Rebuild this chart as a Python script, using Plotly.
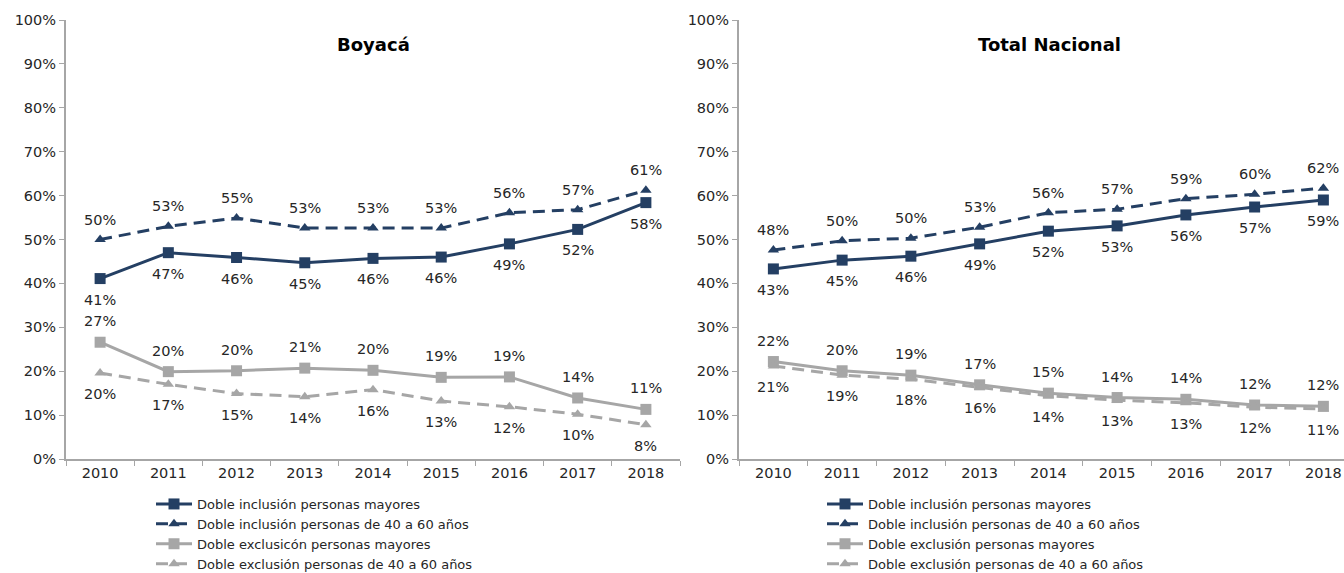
import plotly.graph_objects as go

years = ["2010", "2011", "2012", "2013", "2014", "2015", "2016", "2017", "2018"]

# Boyacá
boy_incl_may = [41.1, 47.0, 45.9, 44.7, 45.7, 46.0, 49.0, 52.3, 58.4]
boy_incl_4060 = [50.0, 53.0, 54.9, 52.6, 52.6, 52.6, 56.1, 56.8, 61.2]
boy_excl_may = [26.6, 19.9, 20.1, 20.7, 20.2, 18.6, 18.7, 13.9, 11.3]
boy_excl_4060 = [19.6, 17.0, 14.9, 14.2, 15.8, 13.2, 11.9, 10.2, 7.8]

# Total Nacional
nac_incl_may = [43.3, 45.3, 46.2, 49.0, 51.9, 53.1, 55.6, 57.4, 59.0]
nac_incl_4060 = [47.6, 49.7, 50.3, 52.8, 56.1, 56.9, 59.3, 60.3, 61.7]
nac_excl_may = [22.2, 20.1, 19.1, 16.9, 15.0, 14.0, 13.6, 12.3, 12.0]
nac_excl_4060 = [21.2, 19.1, 18.2, 16.3, 14.4, 13.4, 12.8, 11.8, 11.4]

names_left = ["Doble inclusión personas mayores",
              "Doble inclusión personas de 40 a 60 años",
              "Doble exclusicón personas mayores",
              "Doble exclusión personas de 40 a 60 años"]
names_right = ["Doble inclusión personas mayores",
               "Doble inclusión personas de 40 a 60 años",
               "Doble exclusión personas mayores",
               "Doble exclusión personas de 40 a 60 años"]

titles = ["Boyacá", "Total Nacional"]

NAVY = "#243F63"
GRAY = "#A6A6A6"
TXT = "#262626"
FONT = "DejaVu Sans"

styles = [
    dict(color=NAVY, dash="solid", symbol="square", shift=-21),
    dict(color=NAVY, dash="12px,7px", symbol="triangle-up", shift=20),
    dict(color=GRAY, dash="solid", symbol="square", shift=21),
    dict(color=GRAY, dash="12px,7px", symbol="triangle-up", shift=-21),
]

fig = go.Figure()
annotations = []

panels = [
    ("x", "y", "legend", names_left, [boy_incl_may, boy_incl_4060, boy_excl_may, boy_excl_4060]),
    ("x2", "y2", "legend2", names_right, [nac_incl_may, nac_incl_4060, nac_excl_may, nac_excl_4060]),
]

for xa, ya, lg, names, series in panels:
    for name, vals, st in zip(names, series, styles):
        fig.add_trace(go.Scatter(
            x=years, y=vals, name=name, mode="lines+markers",
            xaxis=xa, yaxis=ya, legend=lg,
            line=dict(color=st["color"], width=3, dash=st["dash"]),
            marker=dict(symbol=st["symbol"], size=11 if st["symbol"] == "square" else 10,
                        color=st["color"]),
            hoverinfo="skip",
        ))
        for i, yv in enumerate(vals):
            annotations.append(dict(
                x=i, y=yv, xref=xa, yref=ya, text=f"{round(yv)}%",
                showarrow=False, yshift=st["shift"],
                font=dict(family=FONT, size=14.5, color=TXT),
            ))

for title, cx in zip(titles, [373, 1049]):
    annotations.append(dict(x=cx / 1344, y=1 - 44 / 573, xref="paper", yref="paper",
                            xanchor="center", yanchor="middle",
                            text=f"<b>{title}</b>", showarrow=False,
                            font=dict(family=FONT, size=18, color="#000000")))

ydom = [1 - 459 / 573, 1 - 20 / 573]
xaxis_common = dict(type="category", tickson="boundaries", ticks="outside", ticklen=5,
                    tickcolor=GRAY, showline=True, linecolor=GRAY, linewidth=2,
                    showgrid=False, zeroline=False,
                    tickfont=dict(family=FONT, size=14.5, color=TXT))
yaxis_common = dict(range=[0, 100], dtick=10, ticksuffix="%", ticks="outside", ticklen=5,
                    tickcolor=GRAY, showline=True, linecolor=GRAY, linewidth=2,
                    showgrid=False, zeroline=False, domain=ydom,
                    tickfont=dict(family=FONT, size=14.5, color=TXT))

fig.update_layout(
    width=1344, height=573,
    margin=dict(l=0, r=0, t=0, b=0, autoexpand=False),
    paper_bgcolor="white", plot_bgcolor="white",
    xaxis={**xaxis_common, "domain": [66 / 1344, 680 / 1344], "range": [-0.5, 8.5], "anchor": "y"},
    yaxis={**yaxis_common, "anchor": "x"},
    xaxis2={**xaxis_common, "domain": [739 / 1344, 1.0], "range": [-0.5, 8.3], "anchor": "y2"},
    yaxis2={**yaxis_common, "anchor": "x2"},
    annotations=annotations,
    legend=dict(x=151 / 1344, y=1 - 489 / 573, xanchor="left", yanchor="top",
                font=dict(family=FONT, size=13, color=TXT), tracegroupgap=0,
                bgcolor="rgba(0,0,0,0)", itemwidth=36),
    legend2=dict(x=822 / 1344, y=1 - 489 / 573, xanchor="left", yanchor="top",
                 font=dict(family=FONT, size=13, color=TXT), tracegroupgap=0,
                 bgcolor="rgba(0,0,0,0)", itemwidth=36),
    showlegend=True,
)

fig.write_html("out.html", config={"displayModeBar": False},
               post_script="document.body.style.margin='0';")
